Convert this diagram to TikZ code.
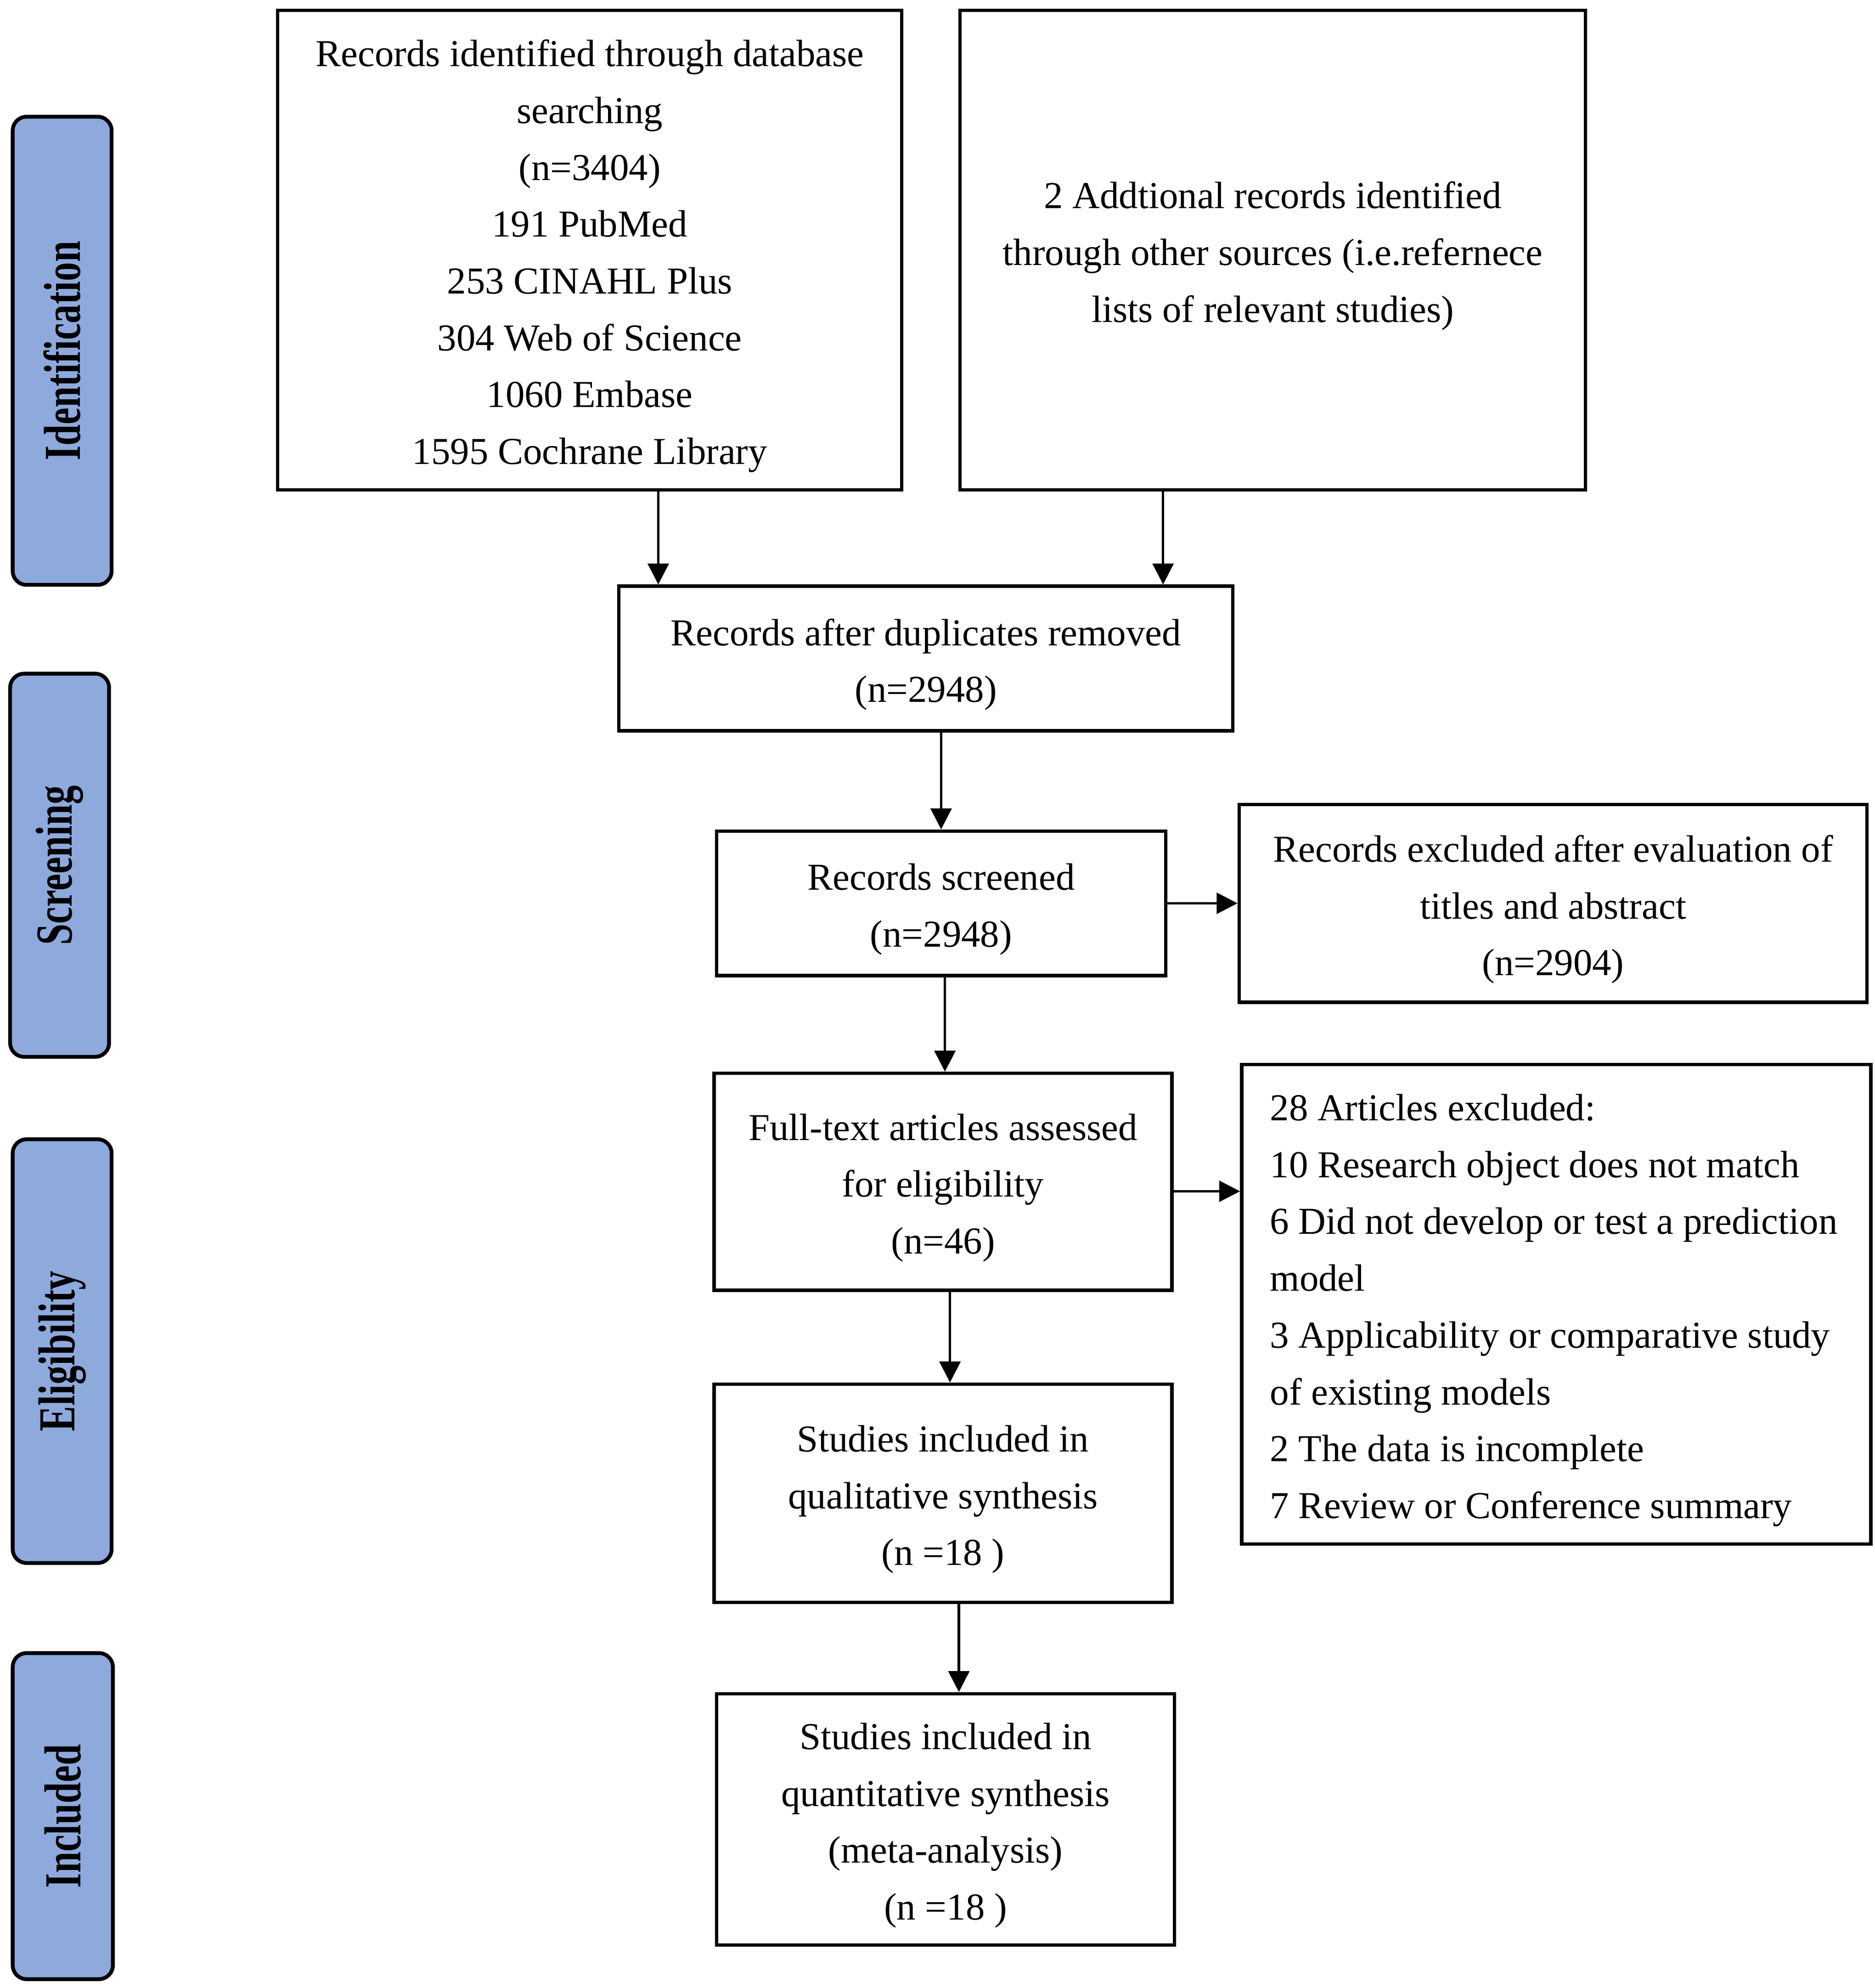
\documentclass[tikz,border=0pt]{standalone}
\usepackage{fontspec}
\setmainfont{Liberation Serif}
\usetikzlibrary{arrows.meta}
\definecolor{sidefill}{HTML}{8EA9DB}
\begin{document}
\begin{tikzpicture}[x=1pt,y=-1pt,
  flowbox/.style={draw=black, line width=2.6pt, inner sep=0pt},
  boxtext/.style={inner sep=0pt, align=center, yshift=-4.8pt,
    font=\fontsize{30}{44.8}\selectfont},
  side/.style={draw=black, fill=sidefill, line width=3pt, rounded corners=11pt,
    inner sep=0pt, rotate=90, font=\bfseries\fontsize{41}{41}\selectfont},
  arr/.style={line width=1.9pt, -{Triangle[length=16.5pt,width=16.5pt]}}]
\useasboundingbox (0,0) rectangle (1478,1567);

% side stage labels
\node[side, minimum width=369pt, minimum height=78pt] (sid) at (49,276.5) {\scalebox{0.73}[1]{Identification}};
\node[side, minimum width=302pt, minimum height=78pt] (sscr) at (47,682) {\scalebox{0.73}[1]{Screening}};
\node[side, minimum width=334pt, minimum height=78pt] (selig) at (49,1065) {\scalebox{0.73}[1]{Eligibility}};
\node[side, minimum width=257pt, minimum height=79pt] (sinc) at (49.5,1431.5) {\scalebox{0.73}[1]{Included}};

% boxes
\node[flowbox, minimum width=492pt, minimum height=378pt] (A) at (465,197) {};
\node[boxtext] (tA) at (A.center)
  {Records identified through database\\searching\\(n=3404)\\191 PubMed\\253 CINAHL Plus\\304 Web of Science\\1060 Embase\\1595 Cochrane Library};
\node[flowbox, minimum width=493pt, minimum height=378pt] (B) at (1003.5,197) {};
\node[boxtext] (tB) at (B.center)
  {2 Addtional records identified\\through other sources (i.e.refernece\\lists of relevant studies)};
\node[flowbox, minimum width=484pt, minimum height=114pt] (C) at (730,519) {};
\node[boxtext] (tC) at (C.center)
  {Records after duplicates removed\\(n=2948)};
\node[flowbox, minimum width=354pt, minimum height=114pt] (D) at (742,712) {};
\node[boxtext] (tD) at (D.center)
  {Records screened\\(n=2948)};
\node[flowbox, minimum width=495pt, minimum height=156pt] (E) at (1224.5,712) {};
\node[boxtext] (tE) at (E.center)
  {Records excluded after evaluation of\\titles and abstract\\(n=2904)};
\node[flowbox, minimum width=361pt, minimum height=171pt] (F) at (743.5,931.5) {};
\node[boxtext] (tF) at (F.center)
  {Full-text articles assessed\\for eligibility\\(n=46)};
\node[flowbox, minimum width=496pt, minimum height=378pt] (G) at (1227,1028) {};
\node[boxtext, align=left, xshift=-2pt] (tG) at (G.center)
  {28 Articles excluded:\\10 Research object does not match\\6 Did not develop or test a prediction\\model\\3 Applicability or comparative study\\of existing models\\2 The data is incomplete\\7 Review or Conference summary};
\node[flowbox, minimum width=361pt, minimum height=172pt] (H) at (743.5,1177) {};
\node[boxtext] (tH) at (H.center)
  {Studies included in\\qualitative synthesis\\(n =18 )};
\node[flowbox, minimum width=361pt, minimum height=198pt] (I) at (745.5,1434) {};
\node[boxtext] (tI) at (I.center)
  {Studies included in\\quantitative synthesis\\(meta-analysis)\\(n =18 )};

% connectors
\coordinate (xa) at (519,0);
\coordinate (xb) at (917,0);
\coordinate (xd) at (745,0);
\coordinate (xf) at (749,0);
\coordinate (xh) at (756,0);
\coordinate (yf) at (0,939);
\draw[arr] (A.south -| xa) -- (C.north -| xa);
\draw[arr] (B.south -| xb) -- (C.north -| xb);
\draw[arr] (C.south -| D.north) -- (D.north);
\draw[arr] (D.east) -- (E.west);
\draw[arr] (D.south -| xd) -- (F.north -| xd);
\draw[arr] (F.east |- yf) -- (G.west |- yf);
\draw[arr] (F.south -| xf) -- (H.north -| xf);
\draw[arr] (H.south -| xh) -- (I.north -| xh);
\end{tikzpicture}
\end{document}
